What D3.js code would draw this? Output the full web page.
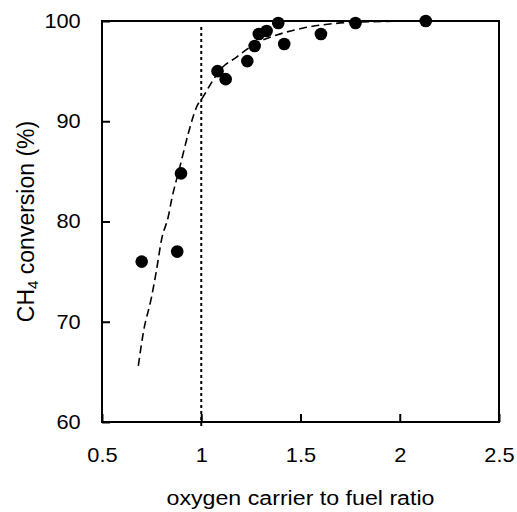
<!DOCTYPE html>
<html>
<head>
<meta charset="utf-8">
<script src="https://cdn.jsdelivr.net/npm/d3@7"></script>
<style>
  html, body { margin: 0; padding: 0; background: #fff; }
  svg { display: block; }
  text { font-family: "Liberation Sans", Arial, sans-serif; fill: #000; }
</style>
</head>
<body>
<svg id="chart" width="517" height="512"></svg>
<script>
// Measured data points
const ratioX = [0.700, 0.879, 0.898, 1.082, 1.123, 1.232, 1.269, 1.290, 1.329, 1.388, 1.418, 1.603, 1.777, 2.131];
const conversionY = [76.0, 77.0, 84.8, 95.0, 94.2, 96.0, 97.5, 98.7, 99.0, 99.8, 97.7, 98.7, 99.8, 100.0];

// Dashed fitted trend line
const fitX = [0.683, 0.708, 0.750, 0.775, 0.800, 0.834, 0.851, 0.893, 0.935, 0.977, 1.010, 1.044, 1.094, 1.178, 1.279, 1.380, 1.514, 1.648, 1.782, 2.131];
const fitY = [65.6, 68.9, 72.5, 75.2, 78.2, 80.5, 82.2, 85.5, 88.8, 91.45, 92.45, 93.6, 95.1, 96.4, 97.8, 98.6, 99.3, 99.7, 99.9, 100.0];

// Vertical reference line
const refX = [1.0];

const xTicks = [0.5, 1, 1.5, 2, 2.5];
const xTickLabels = ["0.5", "1", "1.5", "2", "2.5"];
const yTicks = [60, 70, 80, 90, 100];
const yTickLabels = ["60", "70", "80", "90", "100"];

const svg = d3.select("#chart");
const margin = {left: 102, top: 21, right: 18, bottom: 90};
const W = 517, H = 512;
const x = d3.scaleLinear().domain([0.5, 2.5]).range([margin.left, W - margin.right]);
const y = d3.scaleLinear().domain([60, 100]).range([H - margin.bottom, margin.top]);
const sx = 1.09; // horizontal stretch of glyphs as in reference

// frame
svg.append("rect")
  .attr("x", x(0.5)).attr("y", y(100))
  .attr("width", x(2.5) - x(0.5)).attr("height", y(60) - y(100))
  .attr("fill", "none").attr("stroke", "#000").attr("stroke-width", 2);

// x axis (ticks inward)
const xAxis = d3.axisBottom(x).tickValues(xTicks)
  .tickFormat((d, i) => xTickLabels[i]).tickSizeInner(-8).tickSizeOuter(0).tickPadding(26);
const gx = svg.append("g").attr("transform", `translate(0,${y(60)})`).call(xAxis);
gx.select(".domain").remove();
gx.selectAll(".tick line").attr("stroke", "#000").attr("stroke-width", 2);
gx.selectAll(".tick text").attr("font-size", 20).attr("font-family", "Liberation Sans, Arial, sans-serif")
  .attr("transform", `scale(${sx},1)`);

// y axis (ticks inward)
const yAxis = d3.axisLeft(y).tickValues(yTicks)
  .tickFormat((d, i) => yTickLabels[i]).tickSizeInner(-8).tickSizeOuter(0).tickPadding(11);
const gy = svg.append("g").attr("transform", `translate(${x(0.5)},0)`).call(yAxis);
gy.select(".domain").remove();
gy.selectAll(".tick line").attr("stroke", "#000").attr("stroke-width", 2);
gy.selectAll(".tick text").attr("font-size", 20).attr("font-family", "Liberation Sans, Arial, sans-serif")
  .attr("x", -19.5).attr("transform", `scale(${sx},1)`);

// vertical dotted line at ratio 1
svg.selectAll(".ref").data(refX).enter().append("line")
  .attr("class", "ref")
  .attr("x1", d => x(d)).attr("x2", d => x(d))
  .attr("y1", y(100) + 6).attr("y2", y(60) + 7)
  .attr("stroke", "#000").attr("stroke-width", 2).attr("stroke-dasharray", "3,3");

// dashed fit line
const fitData = fitX.map((v, i) => [v, fitY[i]]);
svg.append("path")
  .datum(fitData)
  .attr("fill", "none").attr("stroke", "#000").attr("stroke-width", 1.6)
  .attr("stroke-dasharray", "8,4.5")
  .attr("d", d3.line().x(d => x(d[0])).y(d => y(d[1])).curve(d3.curveMonotoneX));

// points
const pts = ratioX.map((v, i) => [v, conversionY[i]]);
svg.selectAll(".pt").data(pts).enter().append("circle")
  .attr("class", "pt")
  .attr("cx", d => x(d[0])).attr("cy", d => y(d[1])).attr("r", 6.3)
  .attr("fill", "#000");

// x title
svg.append("text")
  .attr("transform", `translate(${(x(0.5) + x(2.5)) / 2},505) scale(1.16,1)`)
  .attr("text-anchor", "middle").attr("font-size", 20)
  .text("oxygen carrier to fuel ratio");

// y title
const yt = svg.append("text")
  .attr("transform", `translate(34,${(y(60) + y(100)) / 2}) rotate(-90)`)
  .attr("text-anchor", "middle").attr("font-size", 23);
yt.append("tspan").text("CH");
yt.append("tspan").attr("font-size", 15).attr("dy", 4).text("4");
yt.append("tspan").attr("dy", -4).text(" conversion (%)");
</script>
</body>
</html>
